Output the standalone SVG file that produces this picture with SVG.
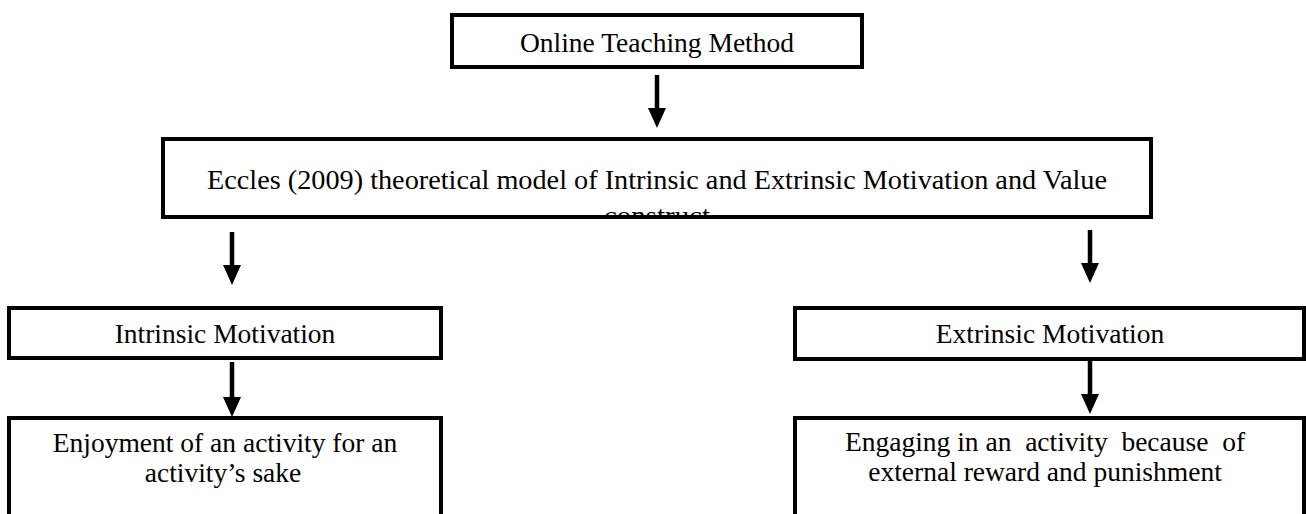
<svg xmlns="http://www.w3.org/2000/svg" width="1306" height="514" viewBox="0 0 1306 514">
  <style>
    .box { fill: #ffffff; stroke: #000000; stroke-width: 4; }
    .lbl { font-family: "Liberation Serif", "Times New Roman", serif; font-size: 27.5px; fill: #000000; text-anchor: middle; }
    .conn { stroke: #000000; stroke-width: 4.5; fill: none; marker-end: url(#ah); }
  </style>
  <defs>
    <marker id="ah" markerUnits="userSpaceOnUse" markerWidth="20" markerHeight="18" refX="0" refY="9" orient="auto" viewBox="0 0 20 18">
      <path d="M0,0 L20,9 L0,18 z" fill="#000000"/>
    </marker>
    <clipPath id="eclip">
      <rect x="163" y="139" width="988" height="77"/>
    </clipPath>
  </defs>
  <rect width="1306" height="514" fill="#ffffff"/>

  <g id="node-online">
    <rect class="box" x="452" y="15" width="410" height="52"/>
    <text class="lbl" x="657" y="52">Online Teaching Method</text>
  </g>

  <g id="node-eccles">
    <rect class="box" x="163" y="139" width="988" height="78"/>
    <g clip-path="url(#eclip)">
      <text class="lbl" x="657" y="189" font-size="32" textLength="900" lengthAdjust="spacingAndGlyphs">Eccles (2009) theoretical model of Intrinsic and Extrinsic Motivation and Value</text>
      <text class="lbl" x="657" y="225" font-size="32" textLength="106" lengthAdjust="spacingAndGlyphs">construct</text>
    </g>
    <line x1="163" y1="217" x2="1151" y2="217" stroke="#000000" stroke-width="4"/>
  </g>

  <g id="node-intrinsic">
    <rect class="box" x="9" y="308" width="432" height="50"/>
    <text class="lbl" x="225" y="343">Intrinsic Motivation</text>
  </g>

  <g id="node-extrinsic">
    <rect class="box" x="795" y="308" width="509" height="51"/>
    <text class="lbl" x="1050" y="343">Extrinsic Motivation</text>
  </g>

  <g id="node-enjoyment">
    <path class="box" d="M9,530 L9,418 L441,418 L441,530" fill="#ffffff"/>
    <text class="lbl" x="225" y="452">Enjoyment of an activity for an</text>
    <text class="lbl" x="223" y="482">activity’s sake</text>
  </g>

  <g id="node-engaging">
    <path class="box" d="M795,530 L795,418 L1304,418 L1304,530" fill="#ffffff"/>
    <text class="lbl" x="1045" y="451" xml:space="preserve">Engaging in an  activity  because  of</text>
    <text class="lbl" x="1045" y="481">external reward and punishment</text>
  </g>

  <g id="connectors">
    <line class="conn" x1="657" y1="75" x2="657" y2="108"/>
    <line class="conn" x1="232" y1="232" x2="232" y2="265"/>
    <line class="conn" x1="1090" y1="230" x2="1090" y2="263"/>
    <line class="conn" x1="232" y1="362" x2="232" y2="397"/>
    <line class="conn" x1="1090" y1="361" x2="1090" y2="394"/>
  </g>
</svg>
